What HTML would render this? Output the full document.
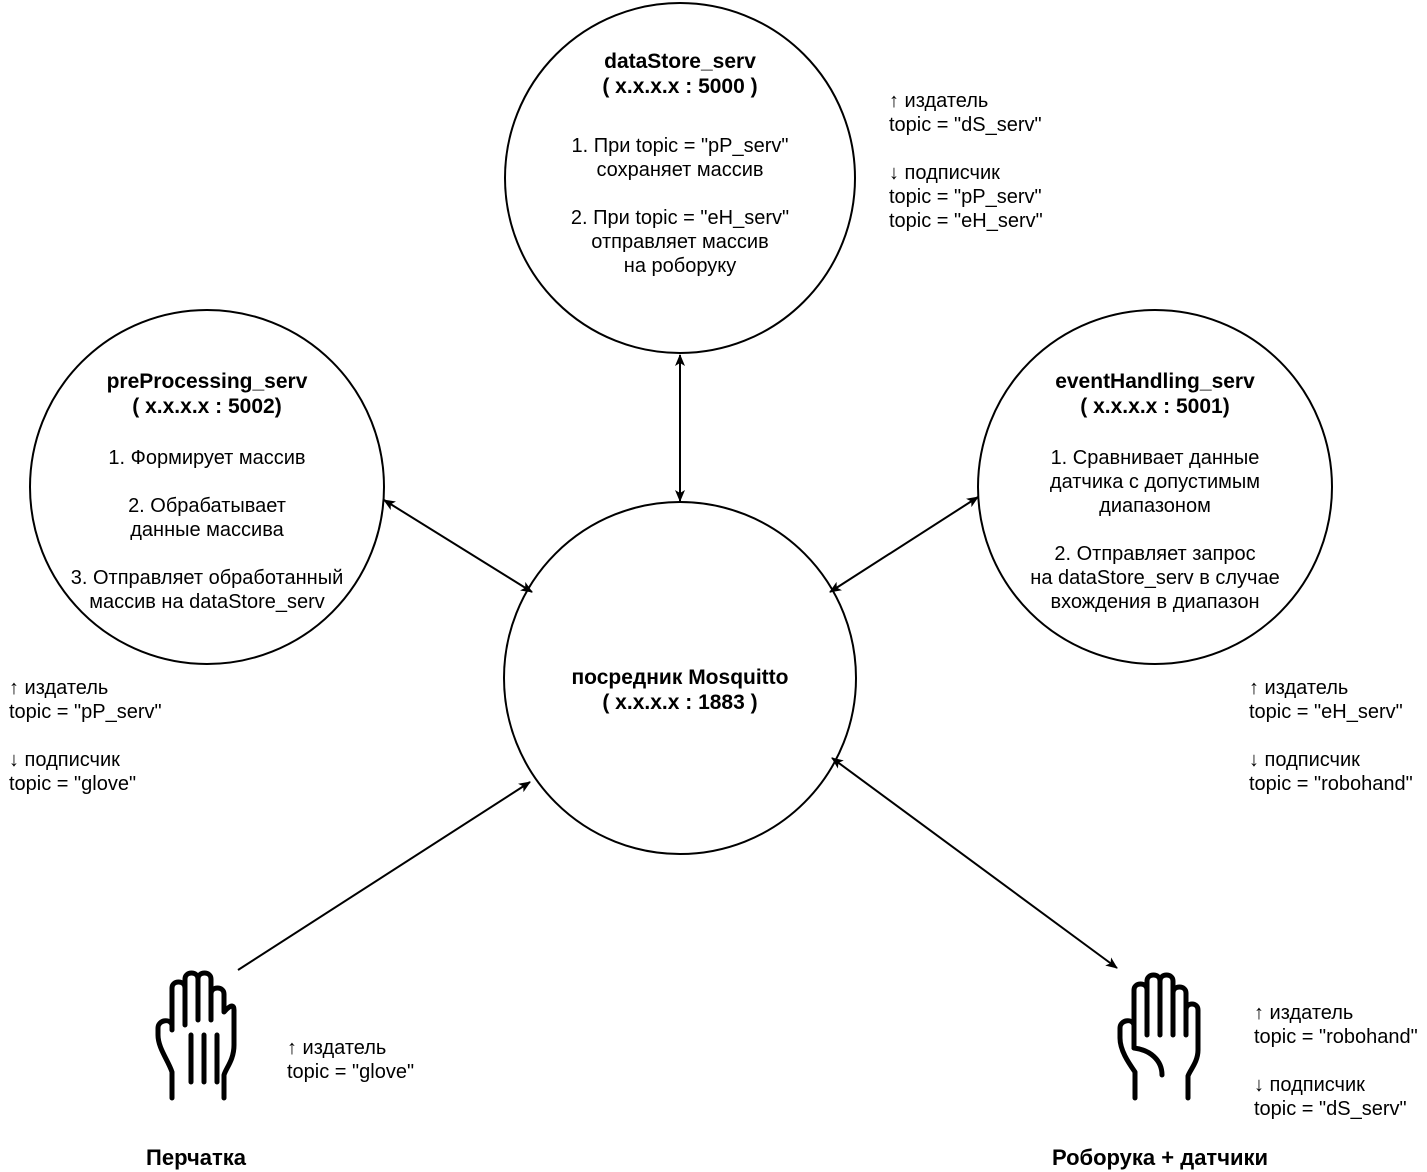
<!DOCTYPE html>
<html><head><meta charset="utf-8"><style>
html,body{margin:0;padding:0;background:#fff;}
svg{display:block;}
text{font-family:"Liberation Sans",Helvetica,Arial,sans-serif;font-size:20px;fill:#000;}
.b{font-weight:bold;font-size:21px;}
.bb{font-weight:bold;font-size:22px;}
</style></head><body>
<svg width="1427" height="1172" viewBox="0 0 1427 1172" xmlns="http://www.w3.org/2000/svg">
<defs>
<marker id="ah" viewBox="0 0 12 10" refX="11" refY="5" markerWidth="12" markerHeight="10" markerUnits="userSpaceOnUse" orient="auto-start-reverse">
<path d="M0,0 L12,5 L0,10 L3,5 Z" fill="#000"/>
</marker>
</defs>
<g fill="#fff" stroke="#000" stroke-width="2">
<circle cx="680" cy="178" r="175"/>
<circle cx="207" cy="487" r="177"/>
<circle cx="1155" cy="487" r="177"/>
<circle cx="680" cy="678" r="176"/>
</g>
<g stroke="#000" stroke-width="2" fill="none">
<line x1="680" y1="355" x2="680" y2="501" marker-start="url(#ah)" marker-end="url(#ah)"/>
<line x1="384" y1="500" x2="532" y2="592" marker-start="url(#ah)" marker-end="url(#ah)"/>
<line x1="978" y1="497" x2="830" y2="592" marker-start="url(#ah)" marker-end="url(#ah)"/>
<line x1="238" y1="970" x2="530" y2="782" marker-end="url(#ah)"/>
<line x1="832" y1="758" x2="1117" y2="968" marker-start="url(#ah)" marker-end="url(#ah)"/>
</g>
<g text-anchor="middle">
<text x="680" y="68" class="b">dataStore_serv</text>
<text x="680" y="93" class="b">( x.x.x.x : 5000 )</text>
<text x="680" y="152">1. При topic = "pP_serv"</text>
<text x="680" y="176">сохраняет массив</text>
<text x="680" y="224">2. При topic = "eH_serv"</text>
<text x="680" y="248">отправляет массив</text>
<text x="680" y="272">на роборуку</text>

<text x="207" y="388" class="b">preProcessing_serv</text>
<text x="207" y="413" class="b">( x.x.x.x : 5002)</text>
<text x="207" y="464">1. Формирует массив</text>
<text x="207" y="512">2. Обрабатывает</text>
<text x="207" y="536">данные массива</text>
<text x="207" y="584">3. Отправляет обработанный</text>
<text x="207" y="608">массив на dataStore_serv</text>

<text x="1155" y="388" class="b">eventHandling_serv</text>
<text x="1155" y="413" class="b">( x.x.x.x : 5001)</text>
<text x="1155" y="464">1. Сравнивает данные</text>
<text x="1155" y="488">датчика с допустимым</text>
<text x="1155" y="512">диапазоном</text>
<text x="1155" y="560">2. Отправляет запрос</text>
<text x="1155" y="584">на dataStore_serv в случае</text>
<text x="1155" y="608">вхождения в диапазон</text>

<text x="680" y="684" class="b">посредник Mosquitto</text>
<text x="680" y="709" class="b">( x.x.x.x : 1883 )</text>

<text x="196" y="1165" class="bb">Перчатка</text>
<text x="1160" y="1165" class="bb">Роборука + датчики</text>
</g>
<g>
<text x="889" y="107">↑ издатель</text>
<text x="889" y="131">topic = "dS_serv"</text>
<text x="889" y="179">↓ подписчик</text>
<text x="889" y="203">topic = "pP_serv"</text>
<text x="889" y="227">topic = "eH_serv"</text>

<text x="9" y="694">↑ издатель</text>
<text x="9" y="718">topic = "pP_serv"</text>
<text x="9" y="766">↓ подписчик</text>
<text x="9" y="790">topic = "glove"</text>

<text x="1249" y="694">↑ издатель</text>
<text x="1249" y="718">topic = "eH_serv"</text>
<text x="1249" y="766">↓ подписчик</text>
<text x="1249" y="790">topic = "robohand"</text>

<text x="287" y="1054">↑ издатель</text>
<text x="287" y="1078">topic = "glove"</text>

<text x="1254" y="1019">↑ издатель</text>
<text x="1254" y="1043">topic = "robohand"</text>
<text x="1254" y="1091">↓ подписчик</text>
<text x="1254" y="1115">topic = "dS_serv"</text>
</g>
<g fill="none" stroke="#000" stroke-width="5" stroke-linecap="round" stroke-linejoin="round">
<path d="M172,1098 L172,1072 C168,1060 158,1048 158,1035 L158,1028 C158,1020 170,1018 172,1025 L172,1030 M172,1030 L172,988 C172,980 185,980 185,988 L185,1020 M185,1020 L185,979 C185,971 198,971 198,979 L198,1020 M198,1020 L198,979 C198,971 211,971 211,979 L211,1020 M211,1020 L211,994 C211,986 224,986 224,994 L224,1012 C224,1012 234,1000 234,1010 L234,1045 C234,1060 226,1068 224,1075 L224,1098"/>
<path d="M191,1035 L191,1082 M204,1035 L204,1082 M217,1035 L217,1082 M185,985 L185,1025"/>
</g>
<g fill="none" stroke="#000" stroke-width="5" stroke-linecap="round" stroke-linejoin="round">
<path d="M1135,1098 L1135,1072 C1128,1062 1120,1050 1120,1038 L1120,1028 C1120,1020 1132,1018 1134,1025 L1134,1048 M1134,1048 L1134,990 C1134,982 1147,982 1147,990 L1147,1035 M1147,1035 L1147,981 C1147,973 1160,973 1160,981 L1160,1035 M1160,1035 L1160,981 C1160,973 1173,973 1173,981 L1173,1035 M1173,1035 L1173,993 C1173,985 1186,985 1186,993 L1186,1035 M1186,1035 L1186,1010 C1186,1002 1198,1002 1198,1010 L1198,1050 C1198,1062 1190,1070 1188,1076 L1188,1098"/>
<path d="M1134,1048 C1150,1050 1162,1060 1162,1075"/>
</g>
</svg>
</body></html>
